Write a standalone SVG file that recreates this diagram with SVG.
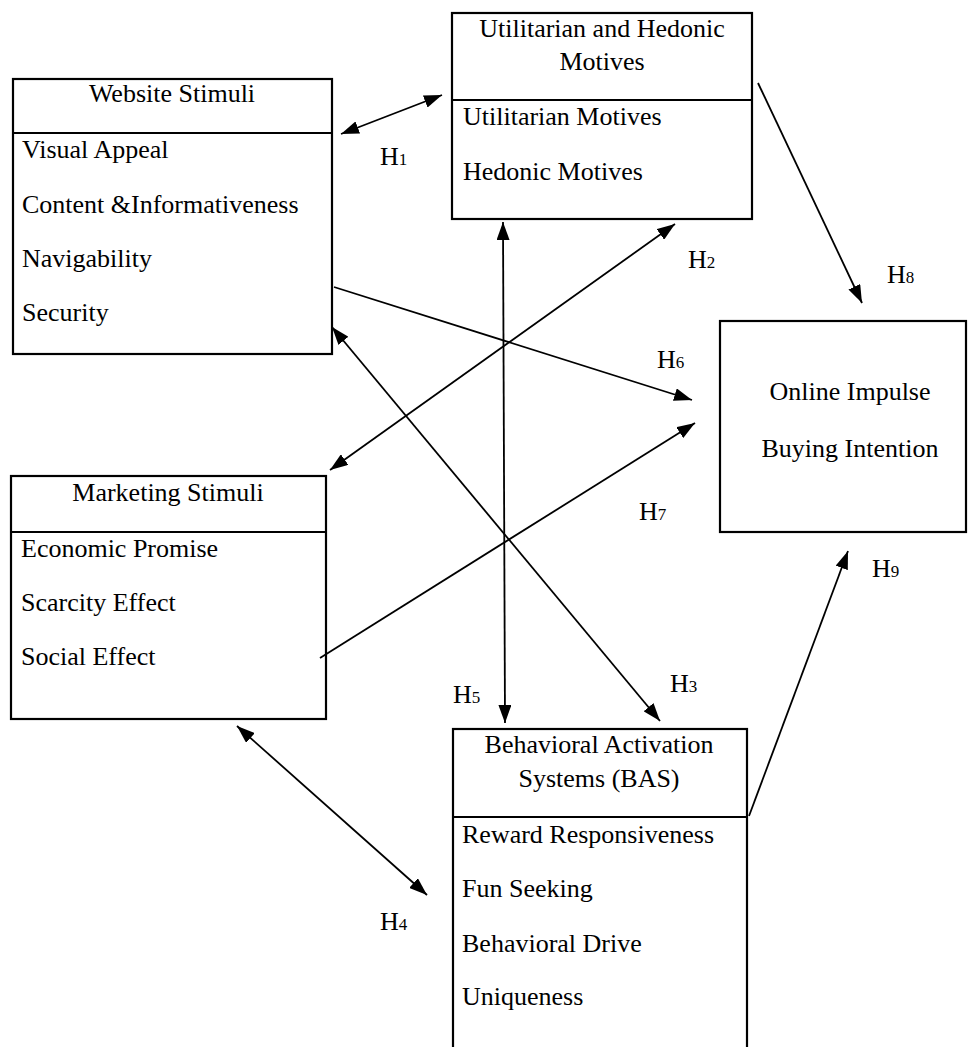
<svg xmlns="http://www.w3.org/2000/svg" width="974" height="1047" viewBox="0 0 974 1047">
<defs>
<marker id="ah" viewBox="0 0 18 13" refX="18" refY="6.5" markerWidth="18" markerHeight="13" markerUnits="userSpaceOnUse" orient="auto-start-reverse">
<path d="M0,0 L18,6.5 L0,13 Z" fill="#000"/>
</marker>
</defs>
<style>
.box{fill:#fff;stroke:#000;stroke-width:2.2}
.div{stroke:#000;stroke-width:2.2}
text{font-family:"Liberation Serif","Times New Roman",serif;font-size:26px;fill:#000}
.c{text-anchor:middle}
.sub{font-size:17px}
.con{stroke:#000;stroke-width:1.8;fill:none}
</style>
<rect width="974" height="1047" fill="#fff"/>
<g id="website">
<rect class="box" x="13" y="79" width="319" height="275"/>
<line class="div" x1="13" y1="133" x2="332" y2="133"/>
<text class="c" x="172" y="102">Website Stimuli</text>
<text x="22" y="158">Visual Appeal</text>
<text x="22" y="213">Content &amp;Informativeness</text>
<text x="22" y="267">Navigability</text>
<text x="22" y="321">Security</text>
</g>
<g id="motives">
<rect class="box" x="452" y="13" width="300" height="206"/>
<line class="div" x1="452" y1="100" x2="752" y2="100"/>
<text class="c" x="602" y="37">Utilitarian and Hedonic</text>
<text class="c" x="602" y="70">Motives</text>
<text x="463" y="125">Utilitarian Motives</text>
<text x="463" y="180">Hedonic Motives</text>
</g>
<g id="online">
<rect class="box" x="720" y="321" width="246" height="211"/>
<text class="c" x="850" y="400">Online Impulse</text>
<text class="c" x="850" y="457">Buying Intention</text>
</g>
<g id="marketing">
<rect class="box" x="11" y="476" width="315" height="243"/>
<line class="div" x1="11" y1="532" x2="326" y2="532"/>
<text class="c" x="168" y="501">Marketing Stimuli</text>
<text x="21" y="557">Economic Promise</text>
<text x="21" y="611">Scarcity Effect</text>
<text x="21" y="665">Social Effect</text>
</g>
<g id="bas">
<rect class="box" x="453" y="729" width="294" height="330"/>
<line class="div" x1="453" y1="817" x2="747" y2="817"/>
<text class="c" x="599" y="753">Behavioral Activation</text>
<text class="c" x="599" y="787">Systems (BAS)</text>
<text x="462" y="843">Reward Responsiveness</text>
<text x="462" y="897">Fun Seeking</text>
<text x="462" y="952">Behavioral Drive</text>
<text x="462" y="1005">Uniqueness</text>
</g>
<g id="connectors">
<line class="con" x1="341" y1="134" x2="442" y2="95" marker-start="url(#ah)" marker-end="url(#ah)"/>
<line class="con" x1="330" y1="470" x2="675" y2="224" marker-start="url(#ah)" marker-end="url(#ah)"/>
<line class="con" x1="503" y1="222" x2="505" y2="723" marker-start="url(#ah)" marker-end="url(#ah)"/>
<line class="con" x1="332" y1="327" x2="660" y2="721" marker-start="url(#ah)" marker-end="url(#ah)"/>
<line class="con" x1="237" y1="726" x2="427" y2="895" marker-start="url(#ah)" marker-end="url(#ah)"/>
<line class="con" x1="334" y1="287" x2="692" y2="400" marker-end="url(#ah)"/>
<line class="con" x1="320" y1="658" x2="695" y2="423" marker-end="url(#ah)"/>
<line class="con" x1="758" y1="83" x2="862" y2="303" marker-end="url(#ah)"/>
<line class="con" x1="749" y1="816" x2="848" y2="551" marker-end="url(#ah)"/>
</g>
<g id="labels">
<text x="380" y="165">H<tspan class="sub">1</tspan></text>
<text x="688" y="268">H<tspan class="sub">2</tspan></text>
<text x="670" y="692">H<tspan class="sub">3</tspan></text>
<text x="380" y="930">H<tspan class="sub">4</tspan></text>
<text x="453" y="703">H<tspan class="sub">5</tspan></text>
<text x="657" y="368">H<tspan class="sub">6</tspan></text>
<text x="639" y="520">H<tspan class="sub">7</tspan></text>
<text x="887" y="283">H<tspan class="sub">8</tspan></text>
<text x="872" y="577">H<tspan class="sub">9</tspan></text>
</g>
</svg>
